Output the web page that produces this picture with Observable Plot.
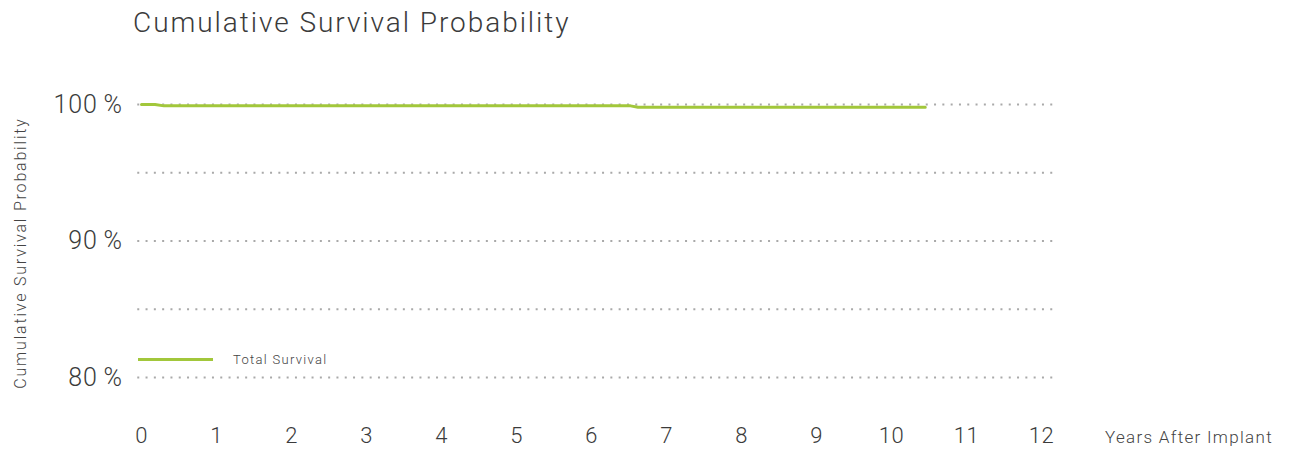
<!DOCTYPE html>
<html>
<head>
<meta charset="utf-8">
<script src="https://cdn.jsdelivr.net/npm/d3@7"></script>
<script src="https://cdn.jsdelivr.net/npm/@observablehq/plot@0.6"></script>
<style>
  html, body { margin: 0; padding: 0; background: #fff; }
  #wrap { position: relative; width: 1291px; height: 449px; font-family: Roboto, "Open Sans", sans-serif; }
  #title { position: absolute; left: 133px; top: 6px; font-size: 28px; font-weight: 300; color: #3b3b3b; letter-spacing: 1.95px; }
  #ylab { position: absolute; left: 20px; top: 253px; transform: translate(-50%, -50%) rotate(-90deg); font-size: 16px; font-weight: 300; color: #444; white-space: nowrap; letter-spacing: 1.8px; }
  #xlab { position: absolute; left: 1105px; top: 427px; font-size: 17px; font-weight: 300; color: #444; white-space: nowrap; letter-spacing: 1.3px; }
  #legend { position: absolute; left: 138px; top: 352px; display: flex; align-items: center; font-size: 13px; font-weight: 300; color: #444; letter-spacing: 1.3px; }
  #legend .sw { width: 75px; height: 3px; background: #a2c73b; margin-right: 20px; }
  #chart svg g[aria-label="y-axis tick label"] text { letter-spacing: 0.8px; }
  #chart svg g[aria-label="x-axis tick label"] text { letter-spacing: 0.5px; }
</style>
</head>
<body>
<div id="wrap">
  <div id="title">Cumulative Survival Probability</div>
  <div id="ylab">Cumulative Survival Probability</div>
  <div id="xlab">Years After Implant</div>
  <div id="legend"><span class="sw"></span><span id="legendText"></span></div>
  <div id="chart"></div>
</div>
<script>
// Data
const years    = [0, 0.18, 0.3, 6.52, 6.62, 10.45];
const survival = [100, 100, 99.9, 99.9, 99.8, 99.8];
const seriesName = "Total Survival";
const xTicks = [0, 1, 2, 3, 4, 5, 6, 7, 8, 9, 10, 11, 12];
const yTicks = [80, 90, 100];
const yGrid  = [80, 85, 90, 95, 100];

const data = years.map((y, i) => ({year: y, value: survival[i]}));
document.getElementById("legendText").textContent = seriesName;

const green = "#a2c73b";
const chart = Plot.plot({
  width: 1291,
  height: 449,
  marginTop: 104,
  marginBottom: 72,
  marginLeft: 137.25,
  marginRight: 238.75,
  style: {fontFamily: "Roboto, 'Open Sans', sans-serif", fontWeight: 300, color: "#3b3b3b", background: "#fff"},
  x: {domain: [-0.05, 12.15]},
  y: {domain: [80, 100]},
  marks: [
    Plot.ruleY(yGrid, {stroke: "#a9a9a9", strokeWidth: 2, strokeDasharray: "2,6.3"}),
    Plot.axisY({ticks: yTicks, tickSize: 0, tickPadding: 15, label: null,
      tickFormat: d => d + "\u2009%", fontSize: 25, fill: "#3b3b3b"}),
    Plot.axisX({ticks: xTicks, tickSize: 0, tickPadding: 50, label: null,
      tickFormat: d => String(d), fontSize: 22, fill: "#3b3b3b"}),
    Plot.line(data, {x: "year", y: "value", stroke: green, strokeWidth: 3})
  ]
});
document.getElementById("chart").appendChild(chart);
</script>
</body>
</html>
